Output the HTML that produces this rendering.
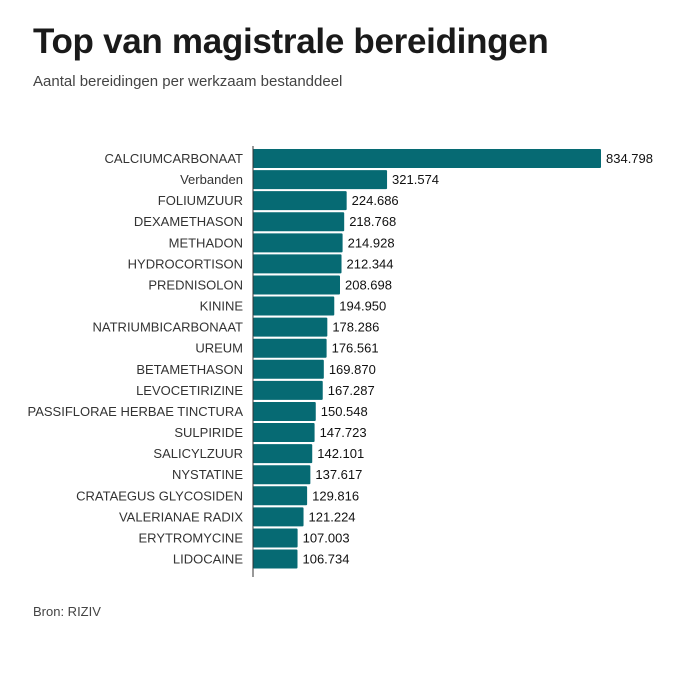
<!DOCTYPE html>
<html><head><meta charset="utf-8"><style>
body{margin:0;background:#fff;width:700px;height:700px;overflow:hidden;font-family:"Liberation Sans",sans-serif;}
h1{position:absolute;left:33px;top:22px;margin:0;font-size:35px;font-weight:bold;color:#1a1a1a;letter-spacing:-0.3px}
.sub{position:absolute;left:33px;top:73px;font-size:15px;color:#444}
.src{position:absolute;left:33px;top:604px;font-size:13px;color:#444}
</style></head><body>
<h1>Top van magistrale bereidingen</h1>
<div class="sub">Aantal bereidingen per werkzaam bestanddeel</div>
<svg id="chart" width="700" height="700" style="position:absolute;left:0;top:0"></svg>
<div class="src">Bron: RIZIV</div>
<script>
const categories=["CALCIUMCARBONAAT","Verbanden","FOLIUMZUUR","DEXAMETHASON","METHADON","HYDROCORTISON","PREDNISOLON","KININE","NATRIUMBICARBONAAT","UREUM","BETAMETHASON","LEVOCETIRIZINE","PASSIFLORAE HERBAE TINCTURA","SULPIRIDE","SALICYLZUUR","NYSTATINE","CRATAEGUS GLYCOSIDEN","VALERIANAE RADIX","ERYTROMYCINE","LIDOCAINE"];
const values=[834798,321574,224686,218768,214928,212344,208698,194950,178286,176561,169870,167287,150548,147723,142101,137617,129816,121224,107003,106734];
const valueLabels=["834.798","321.574","224.686","218.768","214.928","212.344","208.698","194.950","178.286","176.561","169.870","167.287","150.548","147.723","142.101","137.617","129.816","121.224","107.003","106.734"];
const svg=document.getElementById('chart');
const NS='http://www.w3.org/2000/svg';
const x0=253,xMax=601,y0=148,step=21.08,bh=19;
const maxV=Math.max(...values);
const xs=v=>x0+(v/maxV)*(xMax-x0);
const ys=i=>y0+i*step;
categories.forEach((c,i)=>{
  const r=document.createElementNS(NS,'rect');
  
  
  r.setAttribute('x',x0);r.setAttribute('y',ys(i)+1);
  r.setAttribute('width',xs(values[i])-x0);r.setAttribute('height',bh);
  r.setAttribute('rx',1);r.setAttribute('fill','#066a73');
  svg.appendChild(r);
  const t=document.createElementNS(NS,'text');
  
  
  t.setAttribute('x',x0-10);t.setAttribute('y',ys(i)+15);
  t.setAttribute('text-anchor','end');t.setAttribute('font-size','13');t.setAttribute('fill','#333');
  t.textContent=c;svg.appendChild(t);
  const v=document.createElementNS(NS,'text');
  
  
  v.setAttribute('x',xs(values[i])+5);v.setAttribute('y',ys(i)+15);
  v.setAttribute('font-size','13');v.setAttribute('fill','#111');
  v.textContent=valueLabels[i];svg.appendChild(v);
});
const ax=document.createElementNS(NS,'line');


ax.setAttribute('x1',x0);ax.setAttribute('x2',x0);ax.setAttribute('y1',146);ax.setAttribute('y2',577);
ax.setAttribute('stroke','#333');ax.setAttribute('stroke-width','1');
svg.appendChild(ax);
</script>
</body></html>
